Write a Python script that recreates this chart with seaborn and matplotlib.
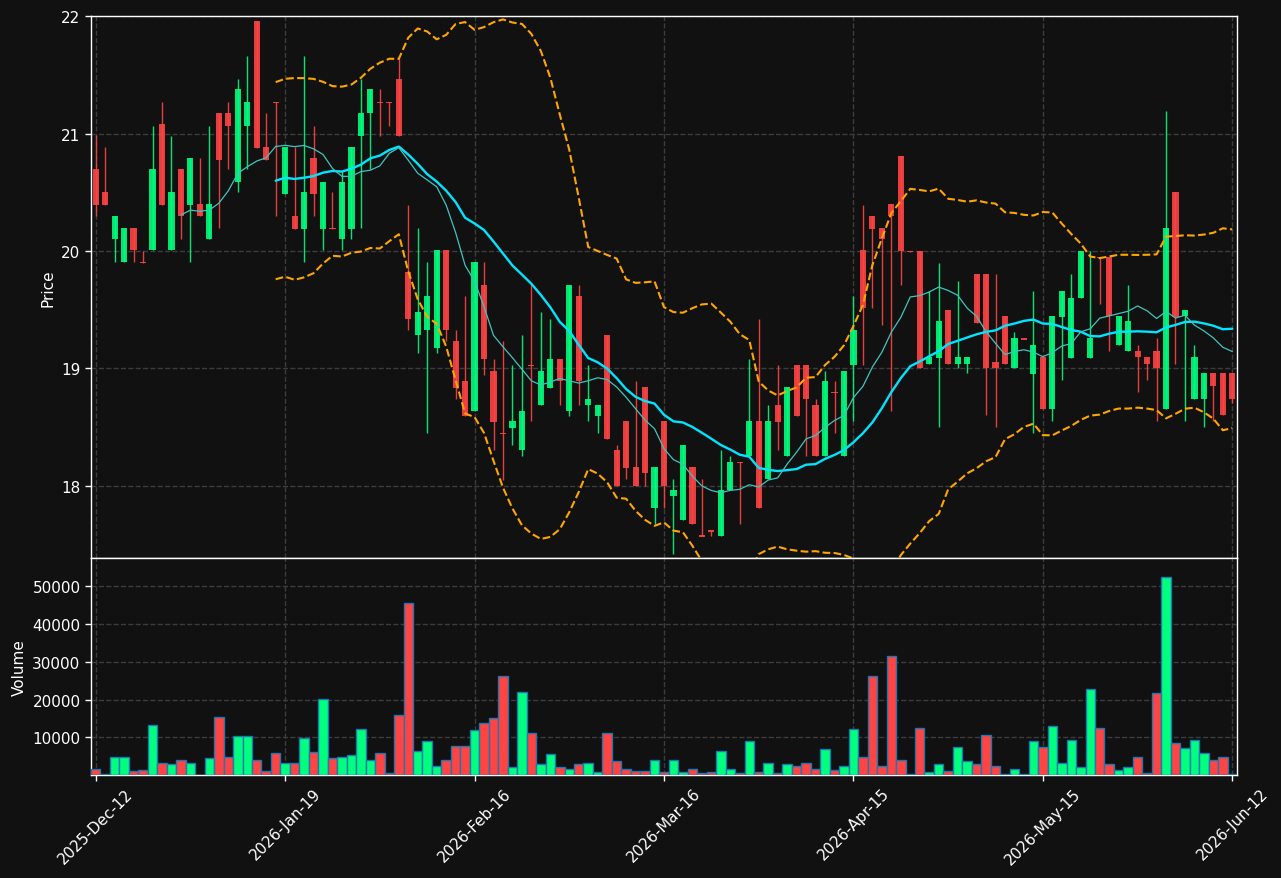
import numpy as np
import pandas as pd
import matplotlib
matplotlib.use('Agg')
import matplotlib.pyplot as plt
import seaborn as sns

# daily OHLC (index 0 = 2025-Dec-12)
opens = [20.70, 20.50, 20.10, 19.91, 20.20, 19.91, 20.01, 21.08, 20.01, 20.70,
         20.39, 20.40, 20.10, 21.18, 21.18, 20.59, 21.07, 21.96, 20.89, 21.27,
         20.49, 20.30, 20.19, 20.79, 20.19, 20.20, 20.10, 20.19, 20.98, 21.18,
         21.27, 21.27, 21.47, 19.82, 19.28, 19.33, 19.17, 20.01, 19.23, 18.89,
         18.64, 19.71, 18.98, 18.45, 18.49, 18.30, 19.03, 18.69, 18.83, 19.08,
         18.64, 19.62, 18.69, 18.59, 19.28, 18.30, 18.55, 18.16, 18.84, 17.81,
         18.55, 17.91, 17.71, 18.16, 17.575, 17.62, 17.57, 17.96, 18.205, 18.25,
         18.55, 18.06, 18.69, 18.25, 19.03, 19.03, 18.69, 18.25, 18.80, 18.25,
         19.03, 20.01, 20.30, 20.20, 20.40, 20.81, 20.00, 20.00, 19.04, 19.09,
         19.50, 19.04, 19.04, 19.80, 19.80, 19.05, 19.45, 19.00, 19.255, 18.95,
         19.10, 18.65, 19.44, 19.09, 19.60, 19.09, 19.95, 19.95, 19.20, 19.15,
         19.15, 19.10, 19.15, 18.65, 20.50, 19.45, 18.74, 18.74, 18.96, 18.96,
         18.96]
highs = [20.985, 20.89, 20.30, 20.20, 20.20, 20.00, 21.07, 21.27, 20.98, 20.70,
         20.79, 20.79, 21.07, 21.18, 21.27, 21.47, 21.66, 21.96, 21.18, 21.27,
         20.89, 20.89, 21.66, 21.07, 20.59, 20.50, 20.68, 20.89, 21.47, 21.38,
         21.38, 21.27, 21.65, 20.39, 20.20, 19.91, 20.01, 20.01, 19.33, 19.62,
         19.91, 19.91, 19.08, 19.23, 19.03, 19.28, 19.72, 19.48, 19.42, 19.08,
         19.71, 19.71, 19.03, 18.69, 19.28, 18.35, 18.55, 18.89, 18.84, 18.16,
         18.55, 18.06, 18.35, 18.16, 18.06, 17.62, 18.30, 18.25, 18.205, 19.08,
         19.42, 18.69, 19.03, 18.84, 19.03, 19.03, 18.74, 18.98, 18.89, 18.98,
         19.62, 20.39, 20.30, 20.20, 20.40, 20.81, 20.00, 20.00, 19.66, 19.90,
         19.50, 19.74, 19.10, 19.80, 19.80, 19.80, 19.45, 19.31, 19.255, 19.66,
         19.10, 19.45, 19.66, 19.80, 20.00, 20.00, 19.95, 19.95, 19.45, 19.71,
         19.20, 19.10, 19.26, 21.19, 20.50, 19.50, 19.20, 18.96, 18.96, 18.96,
         18.96]
lows = [20.30, 20.39, 19.91, 19.91, 19.91, 19.90, 20.01, 20.39, 20.01, 20.10,
        19.91, 20.30, 20.10, 20.20, 20.70, 20.50, 20.70, 20.88, 20.78, 20.30,
        20.49, 20.19, 19.91, 20.30, 20.01, 20.19, 20.01, 20.10, 20.20, 20.70,
        20.98, 21.07, 20.98, 19.33, 19.13, 18.45, 19.13, 19.23, 18.74, 18.59,
        18.64, 18.94, 18.30, 18.05, 18.35, 18.25, 18.55, 18.69, 18.83, 18.69,
        18.59, 18.69, 18.55, 18.45, 18.40, 18.00, 18.06, 18.00, 18.00, 17.67,
        17.81, 17.42, 17.71, 17.67, 17.57, 17.57, 17.57, 17.96, 17.67, 18.25,
        17.81, 18.06, 18.30, 18.25, 18.59, 18.25, 18.25, 18.25, 18.45, 18.25,
        18.55, 19.03, 19.51, 19.37, 18.64, 19.71, 19.995, 19.00, 19.04, 18.50,
        19.04, 19.00, 18.96, 19.39, 18.60, 18.50, 19.04, 19.00, 19.25, 18.45,
        18.65, 18.55, 18.90, 19.09, 19.60, 19.09, 19.55, 19.15, 19.20, 19.15,
        18.80, 18.90, 18.55, 18.65, 19.04, 18.55, 18.74, 18.50, 18.55, 18.60,
        18.70]
closes = [20.39, 20.39, 20.30, 20.20, 20.01, 19.90, 20.70, 20.39, 20.50, 20.30,
          20.79, 20.30, 20.40, 20.78, 21.07, 21.38, 21.27, 20.88, 20.78, 21.26,
          20.89, 20.19, 20.50, 20.49, 20.59, 20.19, 20.59, 20.89, 21.18, 21.38,
          21.26, 21.26, 20.98, 19.42, 19.48, 19.62, 20.01, 19.33, 18.83, 18.59,
          19.91, 19.08, 18.54, 18.44, 18.55, 18.64, 19.02, 18.98, 19.08, 18.89,
          19.71, 18.89, 18.74, 18.69, 18.40, 18.00, 18.15, 18.00, 18.11, 18.16,
          18.00, 17.96, 18.35, 17.67, 17.57, 17.61, 17.96, 18.20, 18.20, 18.55,
          17.81, 18.55, 18.54, 18.84, 18.59, 18.74, 18.25, 18.89, 18.79, 18.98,
          19.33, 19.51, 20.19, 20.10, 20.30, 20.00, 19.995, 19.00, 19.10, 19.40,
          19.04, 19.10, 19.10, 19.39, 19.00, 19.00, 19.04, 19.26, 19.25, 19.20,
          18.65, 19.45, 19.66, 19.60, 20.00, 19.26, 19.945, 19.45, 19.45, 19.40,
          19.10, 19.04, 19.00, 20.20, 19.44, 19.50, 19.10, 18.96, 18.85, 18.60,
          18.74]
volumes = [1700, 250, 4700, 4700, 950, 1200, 13200, 3300, 2800, 3900,
           3100, 100, 4400, 15300, 4900, 10300, 10300, 3900, 950, 5700,
           3100, 3300, 9800, 6000, 20100, 4400, 4900, 5200, 12100, 3900,
           5700, 400, 15900, 45500, 6300, 8900, 2300, 4100, 7600, 7600,
           11900, 13700, 15100, 26300, 2000, 22000, 11100, 2800, 5500, 2000,
           1700, 2800, 3100, 700, 11100, 3600, 1500, 1100, 1100, 3900,
           700, 4100, 700, 1700, 400, 700, 6300, 1700, 400, 8900,
           700, 3100, 400, 2800, 2500, 3100, 1700, 6800, 1200, 2500,
           12100, 4900, 26300, 2300, 31600, 4100, 200, 12400, 700, 2800,
           950, 7300, 3600, 2800, 10500, 2500, 200, 1500, 200, 8900,
           7300, 12900, 3300, 9200, 2000, 22800, 12400, 2800, 1200, 2000,
           4700, 400, 21700, 52400, 8400, 7100, 9200, 5700, 3900, 4900,
           150]
tick_labels = ['2025-Dec-12', '2026-Jan-19', '2026-Feb-16', '2026-Mar-16',
               '2026-Apr-15', '2026-May-15', '2026-Jun-12']

df = pd.DataFrame({'open': opens, 'high': highs, 'low': lows,
                   'close': closes, 'volume': volumes})
df['idx'] = np.arange(len(df))
df['sma10'] = df['close'].rolling(10).mean()
df['sma20'] = df['close'].rolling(20).mean()
std20 = df['close'].rolling(20).std()
df['upper'] = df['sma20'] + 2 * std20
df['lower'] = df['sma20'] - 2 * std20

up_col = '#00ff7f'
down_col = '#ff4444'
cols = np.where(df['close'] >= df['open'], up_col, down_col)

bg = '#111111'
sns.set_theme(style='dark', rc={
    'figure.facecolor': bg, 'axes.facecolor': bg, 'axes.edgecolor': 'white',
    'axes.labelcolor': 'white', 'text.color': 'white',
    'xtick.color': 'white', 'ytick.color': 'white',
    'xtick.bottom': True, 'ytick.left': True,
    'grid.color': '#3c3c3c', 'grid.linestyle': '--', 'grid.linewidth': 1.0,
    'axes.grid': True, 'font.size': 11, 'axes.labelsize': 11,
    'xtick.labelsize': 11, 'ytick.labelsize': 11,
})
plt.rcParams['font.family'] = ['DejaVu Sans']

fig, (ax1, ax2) = plt.subplots(2, 1, figsize=(12.81, 8.79), dpi=100, sharex=True,
                               gridspec_kw={'height_ratios': [541, 217]})
fig.subplots_adjust(left=0.071, right=0.9657, top=0.9807, bottom=0.1172, hspace=0)

# candles
body = (df['close'] - df['open']).to_numpy()
body = np.where(np.abs(body) < 0.012, -0.012, body)
ax1.vlines(df['idx'], df['low'], df['high'], colors=cols, lw=1, alpha=0.9, zorder=2)
ax1.bar(df['idx'], body, bottom=df['open'], width=0.65, color=cols, alpha=0.9,
        linewidth=0, zorder=3)

# indicators
sns.lineplot(data=df, x='idx', y='upper', ax=ax1, color='#ffa500', lw=1.5,
             linestyle='--', zorder=4)
sns.lineplot(data=df, x='idx', y='lower', ax=ax1, color='#ffa500', lw=1.5,
             linestyle='--', zorder=4)
sns.lineplot(data=df, x='idx', y='sma20', ax=ax1, color='#00e5ff', lw=1.7, zorder=5)
sns.lineplot(data=df, x='idx', y='sma10', ax=ax1, color='#40c4c0', lw=0.9, zorder=5)

ax1.set_ylim(min(lows) * 0.998, max(highs) * 1.002)
ax1.set_yticks([18, 19, 20, 21, 22])
ax1.set_ylabel('Price')
ax1.set_xlabel('')
ax1.tick_params(axis='x', labelbottom=False, length=0)

# volume
ax2.bar(df['idx'], df['volume'], width=1.0, color=cols, edgecolor='#1f77b4',
        linewidth=1, zorder=3)
ax2.set_ylim(0, max(volumes) * 1.1)
ax2.set_yticks([10000, 20000, 30000, 40000, 50000])
ax2.set_ylabel('Volume')

ax2.set_xlim(-0.5, len(df) - 0.5)
ax2.set_xticks(np.arange(0, len(df), 20))
ax2.set_xticklabels(tick_labels, rotation=45)

for ax in (ax1, ax2):
    for sp in ax.spines.values():
        sp.set_color('white')
        sp.set_linewidth(1)
    ax.grid(True, linestyle='--', color='#3c3c3c', lw=1)
    ax.tick_params(direction='out', length=4, width=1)

fig.savefig('out.png', dpi=100, facecolor=bg)
